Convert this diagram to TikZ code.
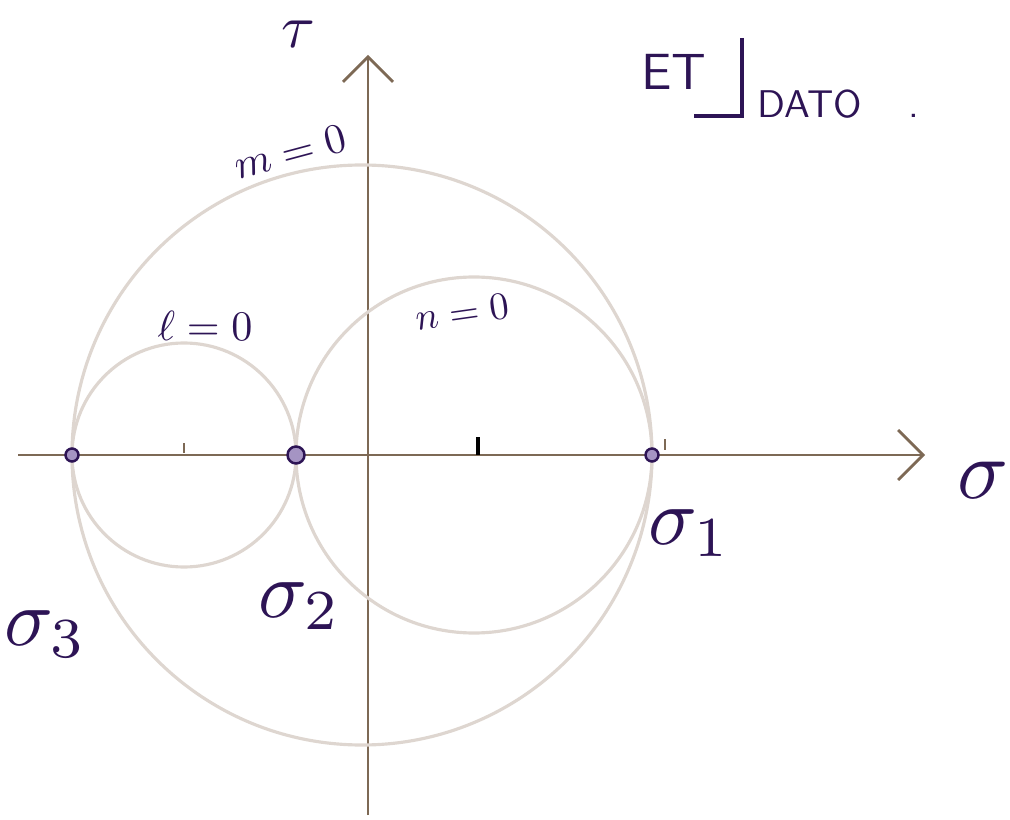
\documentclass[tikz,border=0pt]{standalone}
\usepackage{amsmath,amssymb}
\usetikzlibrary{arrows.meta,calc}
\definecolor{AxisBrown}{RGB}{125,105,85}
\definecolor{CircleGray}{RGB}{222,214,208}
\definecolor{InkPurple}{RGB}{45,20,85}
\definecolor{DotLilac}{RGB}{165,148,195}
\newcommand{\mohrpoint}[3]{%
  \filldraw[draw=InkPurple,fill=DotLilac,line width=1.4pt] (#1,#2) circle (#3);}
\newcommand{\mohrtick}[3]{%
  \draw[AxisBrown,line width=1.2pt] (#1,#2)--(#1,#3);}
\tikzset{
  axisline/.style={AxisBrown,line width=1.6pt,-{Straight Barb[length=5mm,width=10mm,line width=1.6pt]}},
  mohrcircle/.style={CircleGray,line width=1.8pt},
  ink/.style={InkPurple,inner sep=0pt},
}

\begin{document}
\begin{tikzpicture}[x=0.02cm,y=-0.02cm]
  \useasboundingbox (0,0) rectangle (1010,820);
  % axes
  \coordinate (sleft) at (18,455);
  \coordinate (sright) at (925,455);
  \coordinate (tbot) at (368,815);
  \coordinate (ttop) at (368,55);
  \draw[axisline] (sleft)--(sright);
  \draw[axisline] (tbot)--(ttop);
  % circles
  \draw[mohrcircle] (362,455) circle (290);
  \draw[mohrcircle] (184,455) circle (112);
  \draw[mohrcircle] (474,455) circle (178);
  \mohrtick{184}{443}{453}
  \draw[black,line width=2pt] (478,437)--(478,455);
  \mohrtick{665}{439}{450}
  \mohrpoint{72}{455}{6.5}
  \mohrpoint{296}{455}{8.5}
  \mohrpoint{652}{455}{6.5}
  % labels
  \node[ink,scale=3.5] (tau) at (298,34) {$\tau$};
  \node[ink,scale=4.8] (sig) at (983,480) {$\sigma$};
  \node[ink,scale=4.6] (sig1) at (690,533) {$\sigma_1$};
  \node[ink,scale=4.6] (sig2) at (300,606) {$\sigma_2$};
  \node[ink,scale=4.6] (sig3) at (46,634) {$\sigma_3$};
  \node[ink,scale=2.4,rotate=15] (m0) at (290,152) {$m=0$};
  \node[ink,scale=2.4] (l0) at (205,326) {$\ell=0$};
  \node[ink,scale=2.2,rotate=8] (n0) at (462,312) {$n=0$};
  \node[ink,scale=2.9] (et) at (674,72) {\sffamily ET};
  \node[ink,scale=2.2,anchor=west] (dato) at (757,104) {\sffamily DATO\hspace{1.2em}.};
  \draw[InkPurple,line width=2pt] (742,38)--(742,116)--(694,116);
\end{tikzpicture}
\end{document}
